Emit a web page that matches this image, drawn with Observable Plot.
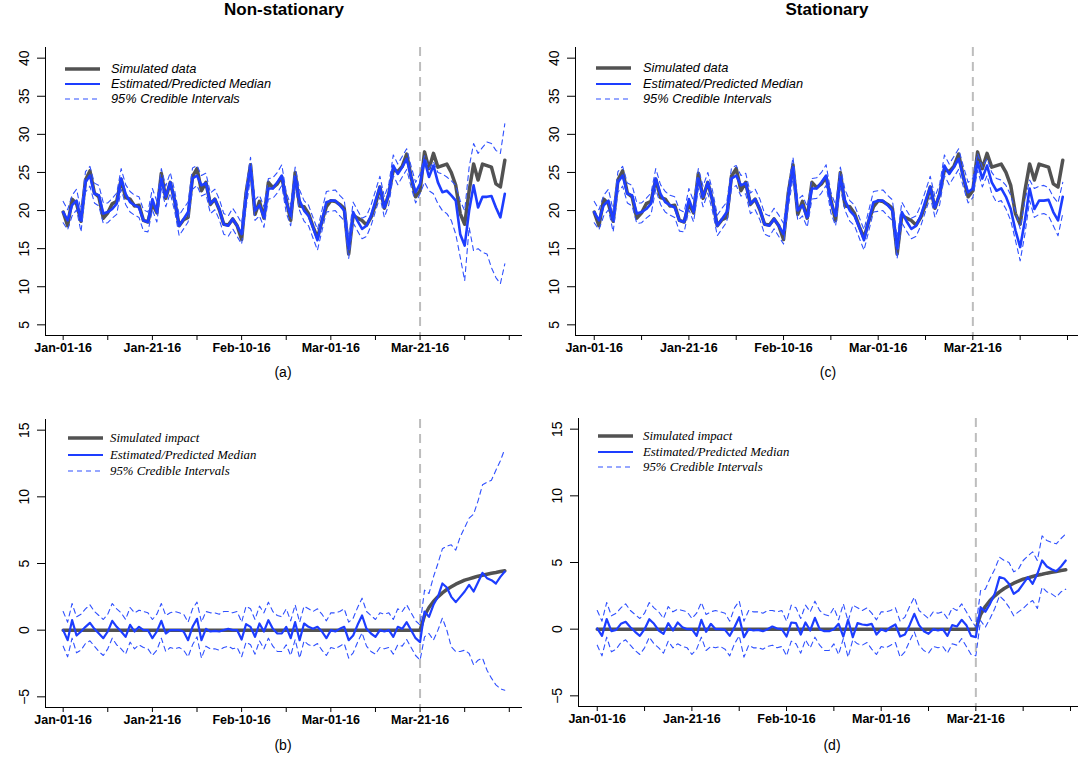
<!DOCTYPE html>
<html><head><meta charset="utf-8">
<script src="https://cdn.jsdelivr.net/npm/d3@7"></script>
<script src="https://cdn.jsdelivr.net/npm/@observablehq/plot@0.6"></script>
<style>
html,body{margin:0;padding:0;background:#fff;width:1078px;height:760px;overflow:hidden;}
#root{position:relative;width:1078px;height:760px;font-family:"Liberation Sans",Arial,sans-serif;color:#000;}
.title{position:absolute;font-weight:bold;font-size:17px;transform:translateX(-50%);white-space:nowrap;}
.lab{position:absolute;font-size:14px;transform:translateX(-50%);}
svg.legend{position:absolute;left:0;top:0;overflow:visible;pointer-events:none;}
[aria-label^="x-axis"] text{font-weight:bold;font-size:12.5px;}
[aria-label^="y-axis"] text{font-size:14px;}
</style></head>
<body><div id="root"></div>
<script>
// ---------- DATA ----------
const N = 100;                       // daily observations, Jan-01-16 .. Apr-09-16
const tickDays = [0,10,20,30,40,50,60,70,80,90,100];
const tickLabels = ["Jan-01-16","","Jan-21-16","","Feb-10-16","","Mar-01-16","","Mar-21-16","",""];
const interventionDay = 80;          // Mar-21-16
const topTicks = [5,10,15,20,25,30,35,40];
const bottomTicks = [-5,0,5,10,15];

// simulated data (top panels)
const simPre = [19.8,18.0,21.5,20.9,18.6,24.0,25.2,22.3,21.8,19.0,
19.7,20.9,21.2,24.1,21.7,21.5,20.6,20.7,18.7,18.5,
20.9,19.7,24.9,21.6,23.7,21.3,18.0,18.8,19.1,24.5,
25.5,22.6,23.7,20.8,21.5,20.1,18.2,18.1,18.9,18.0,
16.2,22.3,26.0,19.5,21.2,19.0,23.7,23.0,23.5,24.4,
21.4,18.7,25.0,20.6,20.5,19.6,17.9,16.4,18.6,20.5,
21.3,21.2,20.8,20.3,14.3,19.4,19.0,18.7,18.1,19.1,
20.8,23.1,20.3,22.2,25.4,25.1,25.8,27.4,24.4,21.8];
const simPost = [22.6,27.7,25.5,27.5,25.7,25.9,26.1,25.0,23.3,19.6,18.2,22.6,26.1,24.0,26.1,25.9,25.7,23.5,23.1,26.6];

// estimated / predicted median (top panels), pre-period shared
const medPre = [19.8,18.7,20.7,21.3,18.7,23.7,24.6,22.2,22.0,19.6,
19.8,20.2,20.9,24.2,22.2,21.1,20.7,20.4,18.7,18.5,
21.5,19.8,24.2,21.8,23.7,21.3,18.0,18.9,19.8,24.2,
24.6,23.3,23.6,20.9,21.5,20.2,18.2,18.0,18.9,18.0,
16.9,21.8,25.7,20.0,20.7,19.1,22.9,22.9,23.7,24.6,
21.1,19.3,24.4,21.3,20.0,19.3,17.8,16.1,18.7,21.1,
21.3,21.3,20.7,20.0,15.0,19.8,18.6,17.6,18.0,19.3,
21.3,23.1,20.4,22.2,25.9,24.8,25.7,26.8,24.4,22.4];
const medPostNS = [23.5,26.6,24.4,25.9,23.7,22.4,22.6,22.0,21.3,16.9,15.4,20.0,23.3,20.4,21.8,21.8,21.9,20.4,19.1,22.2];
const medPostS  = [22.9,26.4,24.2,25.9,23.7,22.6,22.9,21.8,20.2,17.4,15.2,18.7,22.9,20.2,21.3,21.3,21.4,19.8,18.7,21.8];

// 95% credible intervals (top panels)
const upPre = [21.2,20.1,22.0,22.8,20.0,25.1,25.8,23.6,23.3,21.0,
21.0,21.6,22.3,25.5,23.4,22.5,22.0,21.8,20.1,19.8,
22.9,21.2,25.5,23.2,25.0,22.6,19.4,20.3,21.1,25.6,
25.9,24.6,24.9,22.3,22.8,21.5,19.6,19.3,20.3,19.4,
18.3,23.1,27.0,21.4,22.0,20.5,24.2,24.3,25.0,26.0,
22.4,20.7,25.7,22.7,21.3,20.7,19.1,17.5,20.0,22.5,
22.6,22.7,22.0,21.4,16.4,21.1,20.0,19.0,19.3,20.7,
22.6,24.5,21.8,23.5,27.3,26.1,27.1,28.1,25.8,23.7];
const loPre = [18.4,17.5,19.3,20.1,17.2,22.4,23.2,21.0,20.6,18.3,
18.4,19.0,19.5,22.8,20.8,19.8,19.4,19.1,17.3,17.2,
20.1,18.5,22.9,20.5,22.3,19.9,16.7,17.6,18.5,22.8,
23.3,21.9,22.2,19.6,20.1,18.8,16.9,16.6,17.6,16.6,
15.6,20.4,24.3,18.7,19.3,17.8,21.5,21.6,22.3,23.3,
19.7,18.0,23.0,20.0,18.6,18.0,16.4,14.8,17.3,19.8,
19.9,20.0,19.3,18.7,13.7,18.4,17.3,16.3,16.6,18.0,
19.9,21.8,19.1,20.8,24.6,23.4,24.4,25.4,23.1,21.0];
const upPostNS = [24.8,27.2,25.5,26.4,25.0,24.8,24.4,23.9,23.3,21.3,20.0,25.7,28.8,27.5,28.3,29.0,28.8,27.9,27.5,31.4];
const loPostNS = [22.2,23.7,22.6,22.2,20.9,20.0,19.6,18.7,16.9,13.9,10.8,17.8,14.7,15.0,14.5,14.3,12.5,11.2,10.4,13.0];
const upPostS  = [24.2,27.5,25.7,26.8,25.0,24.2,24.0,23.3,22.0,20.0,17.6,21.3,24.0,22.9,23.2,23.3,23.0,21.8,21.0,23.7];
const loPostS  = [21.7,25.3,23.1,24.6,22.2,21.1,21.3,20.2,18.7,16.1,13.4,16.9,21.3,19.1,19.5,19.6,19.3,18.0,16.7,19.6];

// simulated impact (bottom panels)
const impactPre = [0,0,0,0,0,0,0,0,0,0,0,0,0,0,0,0,0,0,0,0,0,0,0,0,0,0,0,0,0,0,0,0,0,0,0,0,0,0,0,0,
0,0,0,0,0,0,0,0,0,0,0,0,0,0,0,0,0,0,0,0,0,0,0,0,0,0,0,0,0,0,0,0,0,0,0,0,0,0,0,0];
const impactPost = [0,1.1,1.7,2.15,2.5,2.8,3.05,3.25,3.45,3.6,3.75,3.85,3.95,4.05,4.12,4.2,4.27,4.33,4.4,4.45];

// estimated impact median (bottom panels)
const effPreNS = [0,-0.75,0.75,-0.4,-0.1,0.25,0.55,0.1,-0.25,-0.6,
-0.1,0.7,0.25,-0.1,-0.5,0.4,-0.1,0.25,0,0,
-0.6,-0.1,0.7,-0.25,0,0,0,-0.1,-0.75,0.25,
0.85,-0.75,0.1,-0.1,-0.05,-0.1,0,0.1,0,0,
-0.7,0.45,0.25,-0.5,0.5,-0.1,0.75,0.1,-0.25,-0.25,
0.25,-0.6,0.6,-0.75,0.5,0.25,0.1,0.25,-0.1,-0.6,
0,-0.1,0.1,0.25,-0.75,-0.4,0.4,1.1,0.1,-0.25,
-0.5,0,-0.1,0,-0.5,0.25,0.1,0.6,0,-0.6];
const effPreS = [0.05,-0.5,0.75,-0.15,-0.05,0.4,0.55,0.15,-0.2,-0.5,
0,0.75,0.4,-0.1,-0.35,0.45,-0.1,0.5,0.15,0,
0,-0.5,0.7,-0.2,0.4,0,0,-0.05,-0.5,0.15,
0.9,-0.6,0,-0.1,-0.05,-0.15,0,0.2,0.05,0,
-0.55,0.5,0.45,-0.4,0.5,-0.1,0.85,0,-0.15,-0.15,
0,0.4,-0.55,0.7,-0.6,0.45,0.35,0.3,0.4,-0.4,
0,-0.15,0.15,0.35,-0.55,-0.4,0.3,1.15,0.3,-0.15,
-0.35,0,-0.1,0,-0.5,0.3,0.2,0.7,0.3,-0.5];
const effPostNS = [-0.9,1.4,1.0,1.9,2.5,3.5,3.2,2.5,2.1,2.5,2.9,3.4,2.9,3.6,4.3,3.9,3.75,3.5,4.0,4.4];
const effPostS  = [-0.6,1.65,1.3,1.9,2.65,3.9,3.8,3.4,2.65,2.9,3.4,3.9,3.4,4.15,5.15,4.7,4.5,4.35,4.7,5.15];

// 95% credible intervals of the impact
const effUpPre = [1.4,0.6,2.0,1.0,1.2,1.6,1.9,1.4,1.1,0.8,
1.2,2.0,1.6,1.3,0.8,1.7,1.3,1.5,1.4,1.3,
0.8,1.2,2.0,1.1,1.3,1.4,1.3,1.2,0.6,1.6,
2.1,0.6,1.4,1.3,1.3,1.2,1.4,1.4,1.3,1.4,
0.6,1.8,1.6,0.8,1.8,1.3,2.1,1.4,1.1,1.0,
1.6,0.7,1.9,0.6,1.8,1.6,1.4,1.6,1.2,0.7,
1.3,1.3,1.4,1.6,0.6,0.9,1.7,2.4,1.4,1.1,
0.8,1.3,1.2,1.3,0.8,1.6,1.4,1.9,1.3,0.7];
const effLoPre = [-1.2,-2.0,-0.6,-1.7,-1.5,-1.0,-0.8,-1.2,-1.6,-1.9,
-1.4,-0.6,-1.1,-1.4,-1.8,-0.9,-1.4,-1.1,-1.3,-1.4,
-1.9,-1.5,-0.6,-1.6,-1.3,-1.4,-1.3,-1.5,-2.0,-1.1,
-0.5,-2.1,-1.2,-1.4,-1.4,-1.5,-1.3,-1.2,-1.4,-1.3,
-2.0,-0.9,-1.1,-1.8,-0.8,-1.4,-0.6,-1.2,-1.6,-1.6,
-1.1,-1.9,-0.7,-2.1,-0.8,-1.1,-1.2,-1.0,-1.5,-1.9,
-1.3,-1.4,-1.2,-1.0,-2.1,-1.7,-0.9,-0.2,-1.2,-1.6,
-1.8,-1.3,-1.4,-1.3,-1.8,-1.1,-1.2,-0.7,-1.3,-1.9];
const effUpPostNS = [0.4,3.0,2.75,4.0,5.0,6.1,6.3,6.4,6.0,7.0,7.7,8.4,8.7,9.7,10.9,11.1,11.25,12.0,12.7,13.6];
const effLoPostNS = [-2.25,-0.5,-0.25,-0.75,0,0.9,0,-1.25,-1.6,-1.6,-1.5,-1.75,-2.6,-2.25,-2.1,-3.0,-3.6,-4.1,-4.4,-4.5];
const effUpPostS  = [0.15,2.9,3.0,3.8,4.5,5.4,5.15,5.0,4.3,4.5,5.15,5.5,5.8,5.15,7.0,6.65,6.5,6.4,6.8,7.15];
const effLoPostS  = [-2.0,0.65,0.15,0.8,1.55,2.5,2.15,1.65,1.0,1.3,1.55,1.9,2.15,1.55,3.15,2.8,2.65,2.4,2.8,3.0];

const legendTop = ["Simulated data","Estimated/Predicted Median","95% Credible Intervals"];
const legendBottom = ["Simulated impact","Estimated/Predicted Median","95% Credible Intervals"];

// ---------- DRAWING ----------
const root = document.getElementById("root");
const GRAY = "#525252", BLUE = "#1d3dff", CI = "#2f50ff", VLINE = "#bdbdbd";
const dayIndex = d3.range(N);

function makePanel(cfg) {
  const sim = cfg.simPre.slice(0, interventionDay).concat(cfg.simPost);
  const med = cfg.medPre.slice(0, interventionDay).concat(cfg.medPost);
  const up = cfg.upPre.slice(0, interventionDay).concat(cfg.upPost);
  const lo = cfg.loPre.slice(0, interventionDay).concat(cfg.loPost);
  const rows = dayIndex.map(i => ({day: i, sim: sim[i], med: med[i], up: up[i], lo: lo[i]}));
  const xDom = [-3.96, 102.96];
  const yDom = cfg.yDom;
  const svg = Plot.plot({
    width: cfg.width, height: cfg.height,
    marginLeft: cfg.mL, marginRight: cfg.mR, marginTop: cfg.mT, marginBottom: cfg.mB,
    style: {fontFamily: "'Liberation Sans', Arial, sans-serif", fontSize: "12.5px", color: "#000", background: "transparent", overflow: "visible"},
    x: {domain: xDom, ticks: tickDays, tickFormat: d => tickLabels[tickDays.indexOf(d)], tickSize: 5, tickPadding: 3, label: null},
    y: {domain: yDom, ticks: cfg.yTicks, tickSize: 8, tickPadding: 9, tickRotate: -90, label: null},
    marks: [
      Plot.ruleX([interventionDay], {stroke: VLINE, strokeWidth: 2, strokeDasharray: "9,6"}),
      Plot.line(rows, {x: "day", y: "sim", stroke: GRAY, strokeWidth: 3.5}),
      Plot.line(rows, {x: "day", y: "med", stroke: BLUE, strokeWidth: cfg.medWidth}),
      Plot.line(rows, {x: "day", y: "up", stroke: CI, strokeWidth: 1.1, strokeDasharray: "5,4"}),
      Plot.line(rows, {x: "day", y: "lo", stroke: CI, strokeWidth: 1.1, strokeDasharray: "5,4"}),
      Plot.ruleX([xDom[0]], {stroke: "#000", strokeWidth: 1}),
      Plot.ruleY([yDom[0]], {stroke: "#000", strokeWidth: 1})
    ]
  });
  svg.style.position = "absolute";
  svg.style.left = cfg.left + "px";
  svg.style.top = cfg.top + "px";
  root.appendChild(svg);
}

function legend(x0, ys, labels, textX, font) {
  const ns = "http://www.w3.org/2000/svg";
  const g = document.createElementNS(ns, "svg");
  g.setAttribute("class", "legend");
  g.setAttribute("width", 1078); g.setAttribute("height", 760);
  const styles = [
    {stroke: GRAY, w: 3.5, dash: null},
    {stroke: BLUE, w: 2.2, dash: null},
    {stroke: CI, w: 1.1, dash: "5,4"}
  ];
  labels.forEach((t, k) => {
    const l = document.createElementNS(ns, "line");
    l.setAttribute("x1", x0); l.setAttribute("x2", x0 + 35);
    l.setAttribute("y1", ys[k]); l.setAttribute("y2", ys[k]);
    l.setAttribute("stroke", styles[k].stroke);
    l.setAttribute("stroke-width", styles[k].w);
    if (styles[k].dash) l.setAttribute("stroke-dasharray", styles[k].dash);
    g.appendChild(l);
    const tx = document.createElementNS(ns, "text");
    tx.setAttribute("x", textX); tx.setAttribute("y", ys[k]);
    tx.setAttribute("dy", "0.35em");
    tx.setAttribute("font-family", font);
    tx.setAttribute("font-style", "italic");
    tx.setAttribute("font-size", "12.8px");
    tx.textContent = t;
    g.appendChild(tx);
  });
  root.appendChild(g);
}

function label(text, x, y, cls) {
  const d = document.createElement("div");
  d.className = cls; d.textContent = text;
  d.style.left = x + "px"; d.style.top = y + "px";
  root.appendChild(d);
}

const topDom = [3.6, 41.4], botDom = [-5.8, 15.8];

// (a) non-stationary data
makePanel({left: 0, top: 0, width: 530, height: 360, mL: 45, mR: 8, mT: 47, mB: 25,
  yDom: topDom, yTicks: topTicks, medWidth: 2.6,
  simPre, simPost, medPre, medPost: medPostNS, upPre, upPost: upPostNS, loPre, loPost: loPostNS});
// (c) stationary data
makePanel({left: 530, top: 0, width: 559, height: 360, mL: 45, mR: 8, mT: 47, mB: 25,
  yDom: topDom, yTicks: topTicks, medWidth: 2.6,
  simPre, simPost, medPre, medPost: medPostS, upPre, upPost: upPostS, loPre, loPost: loPostS});
// (b) non-stationary impact
makePanel({left: 0, top: 372, width: 530, height: 360, mL: 45, mR: 8, mT: 47, mB: 25,
  yDom: botDom, yTicks: bottomTicks, medWidth: 2.2,
  simPre: impactPre, simPost: impactPost, medPre: effPreNS, medPost: effPostNS,
  upPre: effUpPre, upPost: effUpPostNS, loPre: effLoPre, loPost: effLoPostNS});
// (d) stationary impact
makePanel({left: 533, top: 371, width: 559, height: 360, mL: 45, mR: 8, mT: 47, mB: 25,
  yDom: botDom, yTicks: bottomTicks, medWidth: 2.2,
  simPre: impactPre, simPost: impactPost, medPre: effPreS, medPost: effPostS,
  upPre: effUpPre, upPost: effUpPostS, loPre: effLoPre, loPost: effLoPostS});

legend(65, [69, 84, 99], legendTop, 111, "'Liberation Sans', Arial, sans-serif");
legend(596, [68, 84, 99], legendTop, 643, "'Liberation Sans', Arial, sans-serif");
legend(68, [438, 455, 471], legendBottom, 110, "'Liberation Serif', 'Times New Roman', serif");
legend(598, [436, 452, 467], legendBottom, 643, "'Liberation Serif', 'Times New Roman', serif");

label("Non-stationary", 284, 0, "title");
label("Stationary", 827, 0, "title");
label("(a)", 283, 364, "lab");
label("(c)", 828, 364, "lab");
label("(b)", 283, 737, "lab");
label("(d)", 832, 737, "lab");
</script>
</body></html>
